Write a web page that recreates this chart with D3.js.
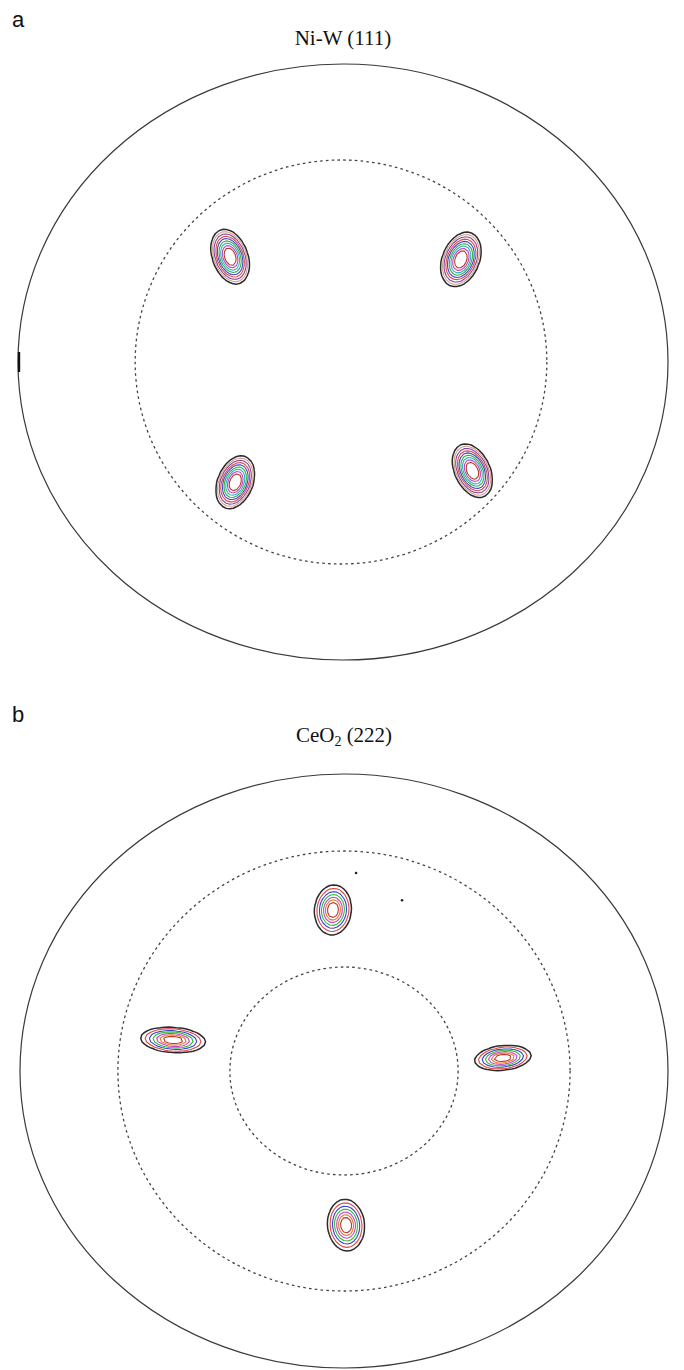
<!DOCTYPE html>
<html><head><meta charset="utf-8">
<script src="https://cdn.jsdelivr.net/npm/d3@7"></script>
<style>html,body{margin:0;background:#fff}svg{display:block}</style>
</head><body>
<script>
// ---- Ni-W (111) pole figure ----
// pole positions: tilt chi and azimuth phi (degrees)
const niwChi = [44.6, 45.0, 47.0, 48.6];
const niwPhi = [134.5, 43.5, 230.6, 317.5];
// peak spread (degrees) along major / minor axis and axis orientation on screen
const niwSpreadMajor = [3.4, 3.4, 3.3, 3.4];
const niwSpreadMinor = [2.1, 2.2, 2.1, 2.1];
const niwAxis = [70, 112, 112, 65];
const niwLevels = [0.07, 0.11, 0.16, 0.23, 0.31, 0.41, 0.52, 0.64, 0.76];
const niwColors = ["#2b2b2b", "#d2a28c", "#86469a", "#d84a4a", "#4646cc", "#3aae3a", "#2bb3c6", "#c244c2", "#b83a2a"];
const niwRings = [90, 57];

// ---- CeO2 (222) pole figure ----
const ceoChi = [48.9, 48.4, 44.3, 46.7];
const ceoPhi = [93.6, 168.8, 5.1, 270.7];
const ceoSpreadMajor = [3.0, 3.9, 3.4, 3.1];
const ceoSpreadMinor = [2.2, 1.5, 1.45, 2.2];
const ceoAxis = [95, 4, -6, 85];
const ceoLevels = [0.07, 0.14, 0.24, 0.36, 0.5, 0.64, 0.78];
const ceoColors = ["#2b2b2b", "#e04444", "#3346cc", "#37b837", "#c844c8", "#e07a30", "#b83a2a"];
const ceoRings = [90, 62.8, 31.7];
// isolated weak counts
const ceoStrayChi = [60.1, 54.2];
const ceoStrayPhi = [86.8, 72.7];

const W = 684, H = 1370;
const svg = d3.select("body").append("svg").attr("width", W).attr("height", H);
svg.append("rect").attr("width", W).attr("height", H).attr("fill", "#fff");

function panel(opt) {
  const g = svg.append("g");
  const {cx, cy, rx, ry} = opt;
  // radial scale: tilt angle -> horizontal / vertical radius
  const rX = d3.scaleLinear().domain([0, 90]).range([0, rx]);
  const rY = d3.scaleLinear().domain([0, 90]).range([0, ry]);
  const pos = (chi, phi) => {
    const a = phi * Math.PI / 180;
    return [cx + rX(chi) * Math.cos(a), cy - rY(chi) * Math.sin(a)];
  };

  // rings: solid rim, dotted inner tilt circles
  opt.rings.forEach((chi, i) => {
    const ry2 = opt.ringRy ? opt.ringRy[i] : rY(chi);
    g.append("ellipse")
      .attr("cx", cx + (opt.ringDx ? opt.ringDx[i] : 0)).attr("cy", cy)
      .attr("rx", rX(chi)).attr("ry", ry2)
      .attr("fill", "none")
      .attr("stroke", i === 0 ? "#3a3a3a" : "#444")
      .attr("stroke-width", i === 0 ? 1.2 : 1.3)
      .attr("stroke-dasharray", i === 0 ? null : "2.6,3.2");
  });

  // intensity field on a regular grid
  const step = 3.5;
  const x0 = cx - rx, y0 = cy - ry;
  const nx = Math.ceil(2 * rx / step), ny = Math.ceil(2 * ry / step);
  const peaks = opt.chi.map((c, i) => {
    const [px, py] = pos(c, opt.phi[i]);
    const t = opt.axis[i] * Math.PI / 180;
    return {px, py, sa: rX(opt.major[i]), sb: rX(opt.minor[i]), ct: Math.cos(t), st: Math.sin(t)};
  });
  const values = new Float64Array(nx * ny);
  for (let j = 0; j < ny; j++) {
    for (let i = 0; i < nx; i++) {
      const x = x0 + (i + 0.5) * step, y = y0 + (j + 0.5) * step;
      let v = 0;
      for (const p of peaks) {
        const dx = x - p.px, dy = y - p.py;
        const u = dx * p.ct + dy * p.st, w = -dx * p.st + dy * p.ct;
        v += Math.exp(-0.5 * (u * u / (p.sa * p.sa) + w * w / (p.sb * p.sb)));
      }
      values[j * nx + i] = v;
    }
  }
  const contours = d3.contours().size([nx, ny]).thresholds(opt.levels)(values);
  const path = d3.geoPath(d3.geoTransform({
    point(x, y) { this.stream.point(x0 + x * step, y0 + y * step); }
  }));
  g.append("g").selectAll("path").data(contours).join("path")
    .attr("d", path)
    .attr("fill", "none")
    .attr("stroke", (d, i) => opt.colors[i])
    .attr("stroke-width", (d, i) => i === 0 ? 1.5 : 1.1)
    .attr("stroke-linejoin", "round");

  // panel letter
  svg.append("text").attr("x", 12).attr("y", opt.letterY)
    .attr("font-family", "Liberation Sans, Arial, sans-serif").attr("font-size", 22)
    .attr("fill", "#111").text(opt.letter);
  return {g, pos};
}

// panel a
const pa = panel({
  cx: 343, cy: 362, rx: 325, ry: 298,
  rings: niwRings, ringRy: [298, 202], ringDx: [0, -2],
  chi: niwChi, phi: niwPhi, major: niwSpreadMajor, minor: niwSpreadMinor, axis: niwAxis,
  levels: niwLevels, colors: niwColors, letter: "a", letterY: 27
});
svg.append("text").attr("x", 343).attr("y", 45).attr("text-anchor", "middle")
  .attr("font-family", "Liberation Serif, Times New Roman, serif").attr("font-size", 21)
  .attr("fill", "#111").text("Ni-W (111)");
// reference direction marker on the rim
{
  const [mx, my] = pa.pos(90, 180);
  pa.g.append("line").attr("x1", mx + 1).attr("x2", mx + 1)
    .attr("y1", my - 10).attr("y2", my + 10)
    .attr("stroke", "#111").attr("stroke-width", 2.4);
}

// panel b
const pb = panel({
  cx: 344, cy: 1071, rx: 324, ry: 297,
  rings: ceoRings, ringRy: [297, 220, 104],
  chi: ceoChi, phi: ceoPhi, major: ceoSpreadMajor, minor: ceoSpreadMinor, axis: ceoAxis,
  levels: ceoLevels, colors: ceoColors, letter: "b", letterY: 722
});
const tb = svg.append("text").attr("x", 344).attr("y", 742).attr("text-anchor", "middle")
  .attr("font-family", "Liberation Serif, Times New Roman, serif").attr("font-size", 21)
  .attr("fill", "#111");
tb.append("tspan").text("CeO");
tb.append("tspan").attr("font-size", 14).attr("dy", 4).text("2");
tb.append("tspan").attr("dy", -4).text(" (222)");

pb.g.selectAll("circle.stray").data(ceoStrayChi).join("circle")
  .attr("class", "stray")
  .attr("cx", (c, i) => pb.pos(c, ceoStrayPhi[i])[0])
  .attr("cy", (c, i) => pb.pos(c, ceoStrayPhi[i])[1])
  .attr("r", 1.3).attr("fill", "#222");
</script>
</body></html>
